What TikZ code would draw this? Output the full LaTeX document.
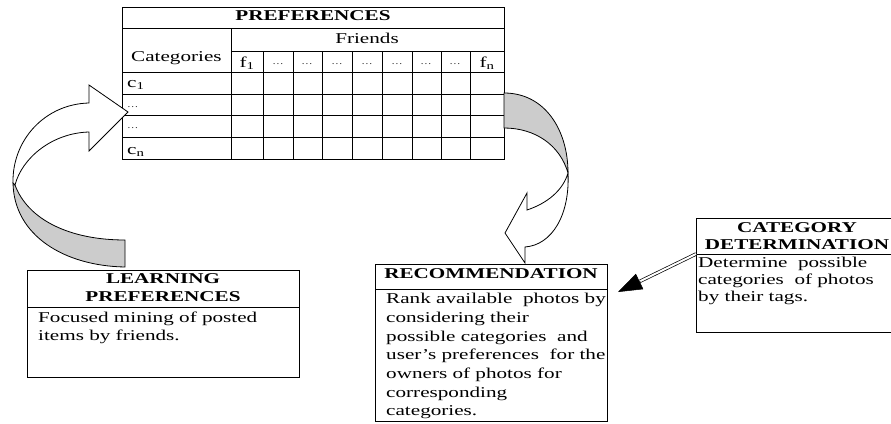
\documentclass[tikz,border=0pt]{standalone}
\usepackage{fontspec}
\setmainfont{Liberation Serif}[FakeStretch=1.41]
\usetikzlibrary{arrows.meta,positioning,calc}
\newcommand{\bodyfont}{\fontsize{15}{18}\selectfont}
\newcommand{\cellfont}{\fontsize{8}{8}\selectfont}
\tikzset{
  box/.style={draw, rectangle, line width=1pt, anchor=north west, inner sep=0pt},
  ttl/.style={font=\bodyfont\bfseries, align=center, inner sep=0pt},
  txt/.style={align=left, anchor=north west, inner sep=0pt},
  cell/.style={font=\cellfont, inner sep=0pt},
  grid/.style={line width=1pt},
  bendfront/.style={draw, line width=0.8pt, fill=white},
  bendback/.style={draw, line width=0.8pt, fill=gray!40},
  dblarr/.style={double, double distance=2pt, line width=0.7pt, shorten >=20pt},
  tiparr/.style={-{Triangle[length=24pt,width=17pt]}, line width=0.5pt},
}

\begin{document}
\begin{tikzpicture}[x=1pt, y=-1pt, font=\bodyfont]
\useasboundingbox (0,0) rectangle (891,423);

% preferences table
\node[box, minimum width=382, minimum height=152] (pref) at (122,7) {};
\draw[grid] (122,28) -- (504,28);
\draw[grid] (231,51) -- (504,51);
\foreach \y in {72,94,115,137}
  \draw[grid] (122,\y) -- (504,\y);
\draw[grid] (231,28) -- (231,159);
\foreach \x in {263,293,322,352,382,412,441,470}
  \draw[grid] (\x,51) -- (\x,159);

\node[ttl] (preft) at (313,16) {PREFERENCES};
\node[inner sep=0pt] (friends) at (367,38) {Friends};
\node[inner sep=0pt, anchor=base west] (cats) at (131,61) {Categories};

% column and row heads
\node[inner sep=0pt, anchor=base] at (247,67) {f\textsubscript{1}};
\foreach \cx in {278,307,337,367,397,426,455}
  \node[cell] at (\cx,64) {\dots};
\node[inner sep=0pt, anchor=base] at (487,67) {f\textsubscript{n}};
\node[inner sep=0pt, anchor=base west] at (127,87) {c\textsubscript{1}};
\node[cell, anchor=west] at (127,107) {\dots};
\node[cell, anchor=west] at (127,128) {\dots};
\node[inner sep=0pt, anchor=base west] at (127,154) {c\textsubscript{n}};

% learning preferences
\node[box, minimum width=272, minimum height=107] (learn) at (27,270) {};
\draw[line width=1pt] ([yshift=-37pt]learn.north west) -- ([yshift=-37pt]learn.north east);
\node[ttl, anchor=north] at (163,273) {LEARNING\\PREFERENCES};
\node[txt, font=\fontsize{15}{17.5}\selectfont] at (38,312)
  {Focused mining of posted\\items by friends.};

% recommendation
\node[box, minimum width=232, minimum height=157] (rec) at (375,264) {};
\draw[line width=1pt] ([yshift=-25pt]rec.north west) -- ([yshift=-25pt]rec.north east);
\node[ttl, anchor=north] at (491,268) {RECOMMENDATION};
\node[txt, font=\fontsize{15}{18.7}\selectfont] at (386,293)
  {Rank available\ \ photos by\\considering their\\possible categories\ \ and\\user’s preferences\ \ for the\\owners of photos for\\corresponding\\categories.};

% category determination
\node[box, minimum width=200, minimum height=114] (catdet) at (696,218) {};
\draw[line width=1pt] ([yshift=-36pt]catdet.north west) -- ([yshift=-36pt]catdet.north east);
\node[ttl, anchor=north, font=\fontsize{15}{17}\selectfont\bfseries] at (797,222)
  {CATEGORY\\DETERMINATION};
\node[txt, font=\fontsize{15}{16.8}\selectfont] at (698,257)
  {Determine\ \ possible\\categories\ \ of photos\\by their tags.};

% curved block arrows
\path[bendback] (13,183) .. controls (14,236) and (65,266) .. (125,267)
  -- (125,240) .. controls (70,240) and (28,220) .. (15,185) -- cycle;
\path[bendfront] (13,183) .. controls (12,140) and (45,104) .. (89,103)
  -- (89,85) -- (128,112) -- (89,151) -- (89,132)
  .. controls (52,133) and (22,158) .. (15,185) -- cycle;

\path[bendback] (504,93) .. controls (545,93) and (568,130) .. (568,173)
  .. controls (560,145) and (535,128) .. (504,128) -- cycle;
\path[bendfront] (568,173) .. controls (570,215) and (552,245) .. (525,247)
  -- (525,263) -- (505,233) -- (527,193) -- (527,210)
  .. controls (548,203) and (563,190) .. (568,173) -- cycle;

% double arrow into recommendation
\coordinate (catS) at ([yshift=-36pt]catdet.north west);
\coordinate (rectip) at ([xshift=10pt]rec.east |- 0,292);
\draw[dblarr] (catS) -- (rectip);
\draw[tiparr] ($(rectip)!25pt!(catS)$) -- (rectip);

\end{tikzpicture}
\end{document}
